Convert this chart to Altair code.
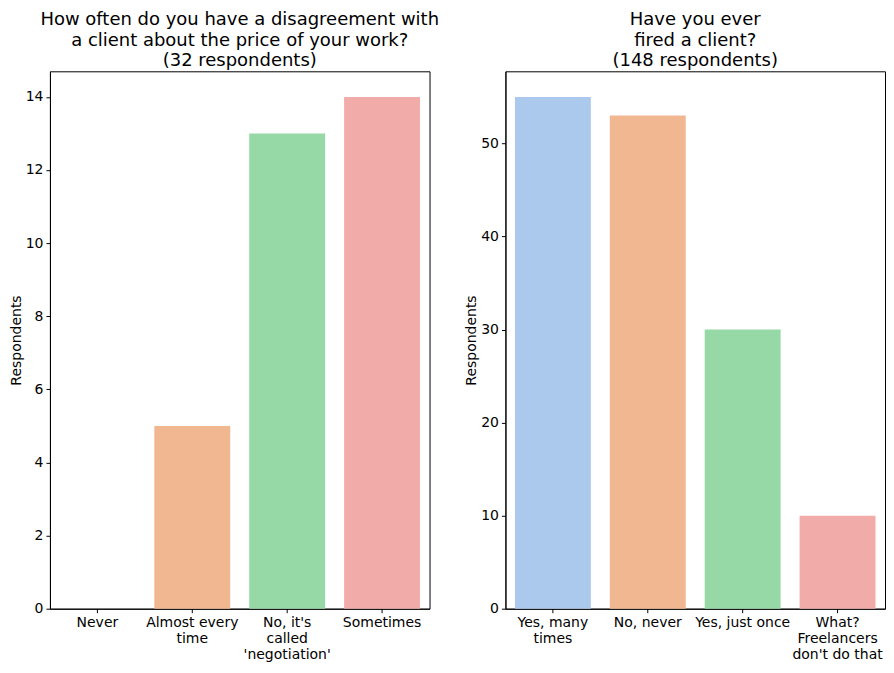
import altair as alt
import pandas as pd

q1_title = ["How often do you have a disagreement with", "a client about the price of your work?", "(32 respondents)"]
q1_categories = ["Never", "Almost every\ntime", "No, it's\ncalled\n'negotiation'", "Sometimes"]
q1_values = [0, 5, 13, 14]
q1_ticks = [0, 2, 4, 6, 8, 10, 12, 14]

q2_title = ["Have you ever", "fired a client?", "(148 respondents)"]
q2_categories = ["Yes, many\ntimes", "No, never", "Yes, just once", "What?\nFreelancers\ndon't do that"]
q2_values = [55, 53, 30, 10]
q2_ticks = [0, 10, 20, 30, 40, 50]

palette = ["#abc9ed", "#f1b791", "#97d9a6", "#f1aba9"]

FONT = "DejaVu Sans"


def panel(title, cats, vals, ticks, ymax, width):
    df = pd.DataFrame({"cat": cats, "val": vals, "color": palette})
    return (
        alt.Chart(df, title=alt.Title(title, fontSize=18, font=FONT, fontWeight="normal",
                                      color="black", lineHeight=20.5, offset=1, anchor="middle"))
        .mark_bar()
        .encode(
            x=alt.X("cat:N", sort=cats, title=None,
                    scale=alt.Scale(paddingInner=0.2, paddingOuter=0.1),
                    axis=alt.Axis(labelAngle=0, labelExpr="split(datum.label, '\\n')",
                                  labelLineHeight=16, labelBaseline="top")),
            y=alt.Y("val:Q", title="Respondents",
                    scale=alt.Scale(domain=[0, ymax], nice=False, zero=True),
                    axis=alt.Axis(values=ticks)),
            color=alt.Color("color:N", scale=None, legend=None),
        )
        .properties(width=width, height=538)
    )


left = panel(q1_title, q1_categories, q1_values, q1_ticks, 14.7, 380)
right = panel(q2_title, q2_categories, q2_values, q2_ticks, 57.75, 380)

chart = (
    alt.hconcat(left, right, spacing=76, bounds="flush")
    .properties(padding={"top": 2, "left": 0, "right": 0, "bottom": 0}, background="white")
    .configure_view(stroke="black", strokeWidth=1)
    .configure_axis(
        labelFont=FONT, labelFontSize=14, labelColor="black",
        titleFont=FONT, titleFontSize=14, titleColor="black", titleFontWeight="normal",
        domainColor="black", tickColor="black", tickSize=4, labelPadding=3,
        grid=False, titlePadding=2,
    )
)

chart.save("out.html", embed_options={"renderer": "svg", "actions": False})
